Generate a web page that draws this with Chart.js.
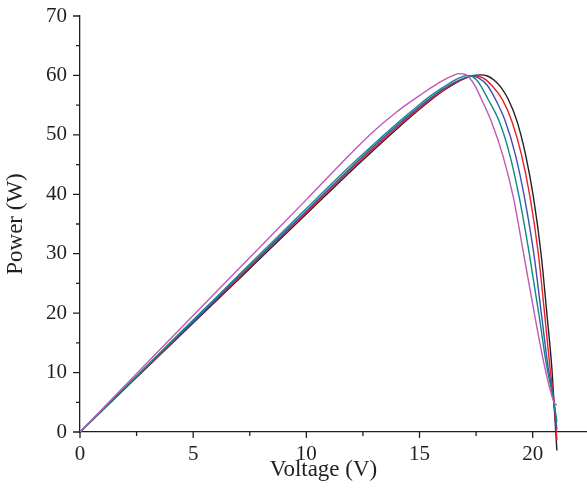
<!DOCTYPE html>
<html lang="en">
<head>
  <meta charset="UTF-8" />
  <title>Power vs Voltage</title>
  <script src="https://cdn.jsdelivr.net/npm/chart.js"></script>
  <style>
    html, body { margin: 0; padding: 0; background: #fff; }
  </style>
</head>
<body>
  <canvas id="pvChart" width="587" height="492"></canvas>

  <script>
    // curves, voltage (V) / power (W) per trace
    const magentaV = [0, 2, 4, 6, 8, 10, 12, 13, 14, 14.5, 15, 15.5, 16, 16.5, 16.75, 17.0, 17.2, 17.45, 17.7, 18.2, 18.7, 19.14, 19.6, 20.1, 20.54, 20.94, 21.06];
    const magentaP = [0, 7.85, 15.7, 23.5, 31.3, 39.1, 47.0, 50.7, 53.9, 55.3, 56.6, 57.9, 59.1, 60.0, 60.3, 60.2, 59.6, 58.3, 56.3, 52.0, 46.3, 39.6, 30.0, 19.4, 10.8, 5.0, 4.5];

    const tealV = [0, 2, 4, 6, 8, 10, 12, 13, 14, 15, 15.5, 16, 16.5, 16.9, 17.1, 17.3, 17.5, 17.7, 18.0, 18.55, 18.99, 19.4, 19.85, 20.29, 20.6, 20.94, 21.07];
    const tealP = [0, 7.55, 15.1, 22.6, 30.1, 37.6, 45.0, 48.5, 51.9, 55.1, 56.6, 57.9, 59.1, 59.8, 60.0, 59.9, 59.3, 58.3, 56.2, 52.0, 46.6, 39.6, 30.0, 19.4, 11.5, 5.0, 1.7];

    const blueV = [0, 2, 4, 6, 8, 10, 12, 13, 14, 15, 16, 16.5, 17, 17.3, 17.6, 18.0, 18.34, 18.78, 19.24, 19.63, 20.05, 20.4, 20.67, 20.94, 21.07];
    const blueP = [0, 7.45, 14.9, 22.35, 29.8, 37.2, 44.6, 48.15, 51.55, 54.75, 57.6, 58.75, 59.6, 59.85, 59.6, 58.3, 56.1, 52.4, 46.6, 39.6, 30.0, 19.4, 11.2, 5.0, 0.4];

    const redV = [0, 2, 4, 6, 8, 10, 12, 13, 14, 15, 16, 16.5, 17, 17.4, 17.8, 18.2, 18.68, 19.08, 19.51, 19.88, 20.25, 20.54, 20.77, 20.94, 21.07];
    const redP = [0, 7.4, 14.8, 22.2, 29.6, 36.95, 44.3, 47.85, 51.25, 54.5, 57.4, 58.6, 59.5, 59.95, 59.6, 58.3, 55.8, 52.3, 46.6, 39.6, 30.0, 19.4, 10.6, 5.0, -1.4];

    const blackV = [0, 2, 4, 6, 8, 10, 12, 13, 14, 15, 16, 16.5, 17, 17.4, 17.7, 18.0, 18.3, 18.6, 18.92, 19.3, 19.69, 20.03, 20.37, 20.64, 20.85, 20.94, 21.07];
    const blackP = [0, 7.35, 14.7, 22.0, 29.35, 36.7, 44.0, 47.55, 51.0, 54.3, 57.3, 58.5, 59.5, 60.0, 60.1, 59.9, 59.2, 58.0, 56.0, 52.4, 46.6, 39.6, 30.0, 19.4, 10.6, 5.0, -3.1];

    const xTicks = [0, 5, 10, 15, 20];
    const yTicks = [0, 10, 20, 30, 40, 50, 60, 70];

    const axisColor = '#231f20';
    const fontFamily = '"Liberation Serif", "Times New Roman", serif';

    function pts(vs, ps) {
      return vs.map((v, i) => ({ x: v, y: ps[i] }));
    }

    function line(vs, ps, color) {
      return {
        data: pts(vs, ps),
        borderColor: color,
        borderWidth: 1.4,
        pointRadius: 0,
        fill: false,
        cubicInterpolationMode: 'monotone',
        clip: false
      };
    }

    // outward tick marks (major + minor) and the x axis title
    const axisExtras = {
      id: 'axisExtras',
      afterDraw(chart) {
        const ctx = chart.ctx;
        const xs = chart.scales.x;
        const ys = chart.scales.y;
        ctx.save();
        ctx.strokeStyle = axisColor;
        ctx.lineWidth = 1.3;
        ctx.beginPath();
        for (let v = 0; v <= xs.max; v += 2.5) {
          const px = xs.getPixelForValue(v);
          const len = xTicks.includes(v) ? 6 : 4;
          ctx.moveTo(px, xs.top);
          ctx.lineTo(px, xs.top + len);
        }
        for (let v = 0; v <= ys.max; v += 5) {
          const py = ys.getPixelForValue(v);
          const len = yTicks.includes(v) ? 7 : 4;
          ctx.moveTo(ys.right, py);
          ctx.lineTo(ys.right - len, py);
        }
        ctx.stroke();

        ctx.fillStyle = axisColor;
        ctx.font = '23px ' + fontFamily;
        ctx.textAlign = 'center';
        ctx.textBaseline = 'middle';
        ctx.fillText('Voltage (V)', (xs.left + xs.right) / 2 - 10, 470);
        ctx.restore();
      }
    };

    const ctx = document.getElementById('pvChart').getContext('2d');
    new Chart(ctx, {
      type: 'line',
      data: {
        datasets: [
          line(magentaV, magentaP, '#c058b4'),
          line(tealV, tealP, '#0e8a86'),
          line(blueV, blueP, '#3d4fb4'),
          line(redV, redP, '#ee1c25'),
          line(blackV, blackP, '#231f20')
        ]
      },
      options: {
        responsive: false,
        animation: false,
        layout: { padding: { top: 16, right: 0, bottom: 0, left: 0 } },
        plugins: {
          legend: { display: false },
          tooltip: { enabled: false }
        },
        scales: {
          x: {
            type: 'linear',
            min: 0,
            max: 22.4,
            afterFit: (s) => { s.height = 60; s.paddingLeft = 0; s.paddingRight = 0; },
            grid: { display: false, drawTicks: false },
            border: { display: true, color: axisColor, width: 1.3 },
            ticks: {
              stepSize: 5,
              includeBounds: false,
              padding: 10,
              color: axisColor,
              font: { family: fontFamily, size: 21 },
              maxRotation: 0,
              callback: (v) => xTicks.includes(v) ? String(v) : ''
            }
          },
          y: {
            type: 'linear',
            min: 0,
            max: 70,
            afterFit: (s) => { s.width = 80; s.paddingTop = 0; s.paddingBottom = 0; },
            grid: { display: false, drawTicks: false },
            border: { display: true, color: axisColor, width: 1.3 },
            ticks: {
              stepSize: 10,
              padding: 13,
              color: axisColor,
              font: { family: fontFamily, size: 21 },
              callback: (v) => yTicks.includes(v) ? String(v) : ''
            },
            title: {
              display: true,
              text: 'Power (W)',
              color: axisColor,
              font: { family: fontFamily, size: 23 },
              padding: { top: 2, bottom: 0 }
            }
          }
        }
      },
      plugins: [axisExtras]
    });
  </script>
</body>
</html>
